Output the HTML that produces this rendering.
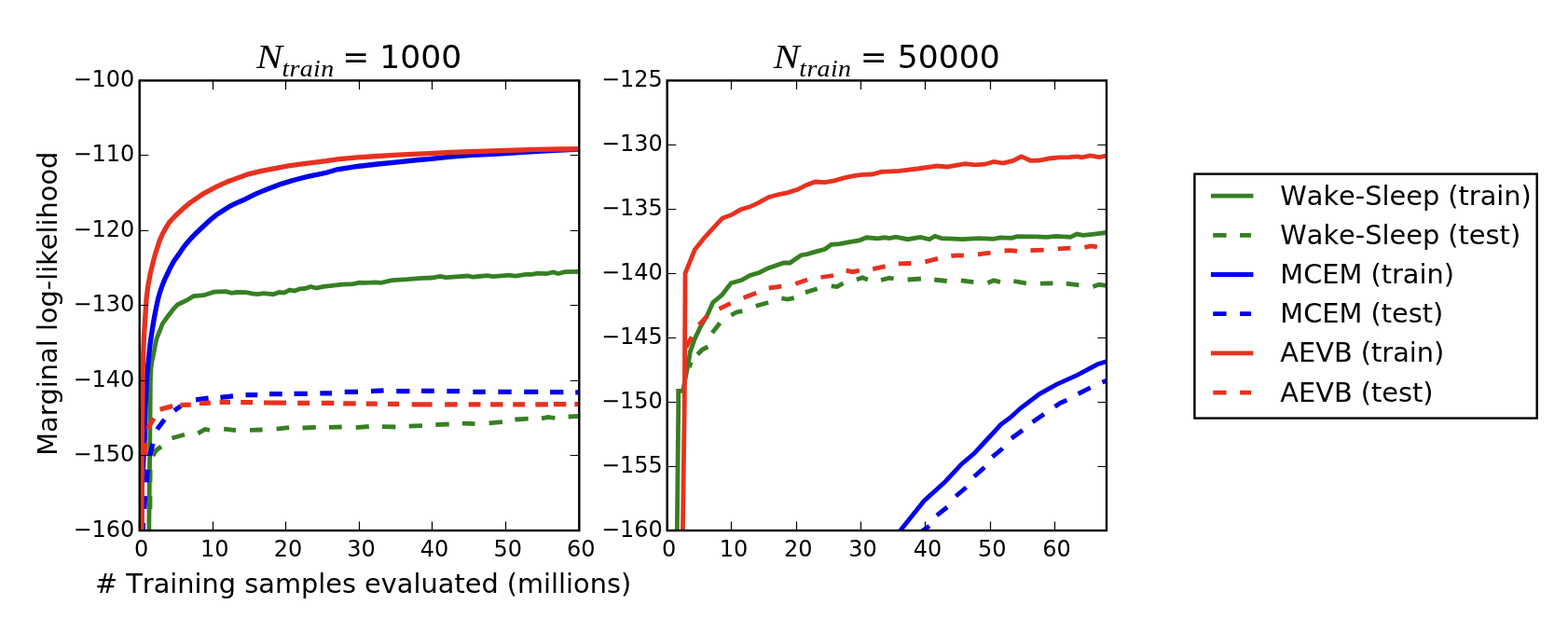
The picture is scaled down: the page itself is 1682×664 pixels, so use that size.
<!DOCTYPE html>
<html lang="en"><head><meta charset="utf-8"><title>Marginal log-likelihood</title>
<style>html,body{margin:0;padding:0;background:#fff}body{width:1682px;height:664px;overflow:hidden}svg{display:block;font-family:"DejaVu Sans","Liberation Sans",sans-serif}text{white-space:pre;font-kerning:none;font-feature-settings:"kern" 0,"liga" 0}</style></head><body>
<svg width="1682" height="664" viewBox="0 0 1682 664">
<rect width="1682" height="664" fill="#fff"/>
<clipPath id="c1"><rect x="149.7" y="86.4" width="471.59999999999997" height="482.70000000000005"/></clipPath>
<g clip-path="url(#c1)" fill="none" stroke-width="4.8" stroke-linejoin="miter">
<polyline points="159.8,570.0 160.5,500.0 161.1,440.0 161.4,407.8 161.9,396.0 162.9,388.0 165.4,376.2 166.7,368.9 168.6,361.7 171.5,354.5 174.4,347.2 179.5,340.0 186.2,331.4 190.5,326.7 200.6,322.0 207.8,317.5 218.7,316.7 229.5,313.1 242.5,312.6 248.3,314.3 254.1,313.5 264.2,313.6 271.6,315.1 276.9,315.5 282.2,314.7 293.4,315.7 299.4,313.5 304.7,314.1 310.7,311.1 316.0,312.1 321.9,309.8 327.2,309.5 333.2,307.5 339.2,309.1 347.1,307.4 356.4,306.4 367.0,305.1 378.9,304.7 385.6,303.1 392.2,303.4 402.8,302.9 408.7,303.4 420.6,300.6 436.5,299.7 452.4,298.4 463.0,298.0 472.3,296.4 478.3,297.7 489.5,296.8 501.5,296.0 506.8,297.1 522.7,295.7 529.3,296.7 546.5,295.1 553.1,296.1 563.7,294.4 570.4,294.4 577.0,293.1 586.3,293.7 593.6,292.0 598.9,293.5 606.2,291.7 622.0,291.4" stroke="#377f22"/>
<path d="M161.0 546.0L161.0 532.0M161.0 517.4L161.2 503.7M164.0 489.0L167.5 483.0L173.0 479.0M184.4 470.0L198.0 466.3M212.3 464.8L220.0 460.5L225.0 461.5M240.2 460.2L253.0 461.7M268.0 461.4L281.6 461.0M296.6 460.2L310.2 458.7M324.5 459.0L338.8 458.4M353.0 458.4L366.7 458.0M381.7 458.7L395.8 457.5M410.0 457.7L424.4 458.0M438.7 457.2L453.0 456.6M467.3 455.7L481.7 455.0M496.0 454.2L509.5 454.7M524.6 453.9L538.9 452.7M552.4 450.0L566.7 449.2M581.0 448.9L588.0 447.4L595.4 448.5M609.7 447.0L622.0 446.4" stroke="#377f22"/>
<polyline points="152.0,570.0 152.1,520.0 153.5,500.0 155.2,470.0 155.9,440.0 157.3,407.8 159.1,388.0 161.1,368.9 163.2,354.5 165.6,340.0 167.9,328.2 169.5,320.9 171.5,313.7 174.0,306.5 176.9,299.2 180.4,292.0 182.5,287.4 186.5,280.2 191.6,272.9 196.6,265.7 202.4,258.5 205.7,254.8 209.3,251.2 216.8,244.0 225.1,236.2 232.3,230.4 239.5,225.7 246.8,221.0 254.0,217.7 261.2,214.5 268.5,210.8 275.7,207.4 280.0,205.6 287.8,202.5 302.3,197.1 316.8,192.8 331.2,189.1 340.0,187.4 350.0,185.3 361.7,181.8 383.4,178.5 405.1,176.0 426.8,173.8 448.5,171.5 460.0,170.7 483.9,168.1 512.8,166.0 541.8,164.6 576.0,162.4 600.2,161.0 622.0,160.2" stroke="#0000ee" stroke-width="5.3"/>
<path d="M153.3 570.0L153.6 561.0M154.8 545.8L155.6 532.1M157.3 517.4L158.3 503.7M160.6 489.0L164.0 475.8M168.5 460.5L176.5 450.0M187.0 440.5L194.0 435.5M210.0 428.9L223.6 427.1M236.4 426.3L250.0 424.9M263.5 423.6L276.3 423.6M289.0 422.6L302.7 422.6M315.5 422.3L329.8 422.3M343.3 421.8L356.0 421.8M369.7 420.3L384.0 420.3M398.0 419.6L411.6 418.9M425.2 419.6L439.5 419.6M452.0 419.3L465.8 419.3M479.4 419.6L493.0 419.6M507.3 420.3L520.8 420.3M534.4 420.3L548.7 420.3M562.2 420.3L577.3 420.3M590.1 420.6L604.4 420.6M617.2 420.8L622.0 420.8" stroke="#0000ee" stroke-width="5.2"/>
<polyline points="152.0,570.0 152.2,480.0 152.8,440.0 153.1,410.0 153.4,388.0 154.4,361.7 155.8,340.0 157.0,320.9 158.8,306.5 161.6,292.0 164.5,280.2 166.4,272.9 168.8,265.7 171.1,258.5 174.2,251.2 176.0,248.0 178.2,244.0 181.7,238.3 188.9,230.7 196.2,224.0 203.4,217.9 210.6,212.9 217.8,208.0 225.1,204.1 231.0,200.9 244.5,194.7 258.9,189.5 266.2,186.8 280.6,183.4 295.1,180.6 309.5,177.9 324.0,175.8 338.5,174.1 350.0,172.7 361.7,170.9 383.4,168.8 405.1,167.5 426.8,166.2 448.5,165.1 460.0,164.6 483.9,163.5 512.8,162.4 541.8,161.5 576.0,160.3 600.0,160.0 622.0,159.8" stroke="#e8311f" stroke-width="5.3"/>
<path d="M155.4 487.5L155.6 475.3M158.5 460.0L165.0 448.5M171.6 439.2L185.2 435.4M193.5 434.5L204.8 434.2M213.8 432.7L225.8 432.2M235.6 431.3L247.0 431.3M258.2 431.6L271.0 431.6M283.0 432.0L307.0 432.2M319.2 432.4L332.0 432.4M344.8 432.4L358.4 432.4M368.2 432.8L381.7 432.8M392.8 433.1L404.8 433.1M416.1 433.4L428.2 433.4M441.7 433.9L463.6 433.9M477.1 433.9L490.7 433.9M502.7 433.9L515.5 433.9M526.1 433.9L539.6 433.9M550.2 433.9L563.0 433.9M574.3 433.9L587.8 433.9M593.9 433.6L607.4 433.6M616.4 433.6L622.0 433.6" stroke="#e8311f" stroke-width="5.2"/>
</g>
<g stroke="#000" stroke-width="1.2" fill="none">
<path d="M149.50 569.1V559.5M149.50 86.4V96.0"/>
<path d="M228.50 569.1V559.5M228.50 86.4V96.0"/>
<path d="M306.50 569.1V559.5M306.50 86.4V96.0"/>
<path d="M385.50 569.1V559.5M385.50 86.4V96.0"/>
<path d="M463.50 569.1V559.5M463.50 86.4V96.0"/>
<path d="M542.50 569.1V559.5M542.50 86.4V96.0"/>
<path d="M621.50 569.1V559.5M621.50 86.4V96.0"/>
<path d="M149.7 569.50H159.29999999999998M621.3 569.50H611.6999999999999"/>
<path d="M149.7 488.50H159.29999999999998M621.3 488.50H611.6999999999999"/>
<path d="M149.7 408.50H159.29999999999998M621.3 408.50H611.6999999999999"/>
<path d="M149.7 327.50H159.29999999999998M621.3 327.50H611.6999999999999"/>
<path d="M149.7 247.50H159.29999999999998M621.3 247.50H611.6999999999999"/>
<path d="M149.7 166.50H159.29999999999998M621.3 166.50H611.6999999999999"/>
<path d="M149.7 86.50H159.29999999999998M621.3 86.50H611.6999999999999"/>
</g>
<rect x="149.7" y="86.4" width="471.59999999999997" height="482.70000000000005" fill="none" stroke="#000" stroke-width="2.4"/>
<g font-size="24" fill="#000">
<text x="151.70" y="596.80" text-anchor="middle">0</text>
<text x="230.30" y="596.80" text-anchor="middle">10</text>
<text x="308.90" y="596.80" text-anchor="middle">20</text>
<text x="387.50" y="596.80" text-anchor="middle">30</text>
<text x="466.10" y="596.80" text-anchor="middle">40</text>
<text x="544.70" y="596.80" text-anchor="middle">50</text>
<text x="623.30" y="596.80" text-anchor="middle">60</text>
<text x="144.30" y="575.50" text-anchor="end">−160</text>
<text x="144.30" y="495.05" text-anchor="end">−150</text>
<text x="144.30" y="414.60" text-anchor="end">−140</text>
<text x="144.30" y="334.15" text-anchor="end">−130</text>
<text x="144.30" y="253.70" text-anchor="end">−120</text>
<text x="144.30" y="173.25" text-anchor="end">−110</text>
<text x="144.30" y="92.80" text-anchor="end">−100</text>
</g>
<text transform="translate(275.00,73.3) scale(1.15,1)" font-family="'Liberation Serif','DejaVu Serif',serif" font-style="italic" font-size="36.5">N</text>
<text transform="translate(302.50,81.5) scale(1.14,1)" font-family="'Liberation Serif','DejaVu Serif',serif" font-style="italic" font-size="24.5" letter-spacing="0.3">train</text>
<text x="367.30" y="73.3" font-size="34.56">= 1000</text>
<clipPath id="c2"><rect x="715.7" y="86.4" width="471.29999999999995" height="482.70000000000005"/></clipPath>
<g clip-path="url(#c2)" fill="none" stroke-width="4.8" stroke-linejoin="miter">
<polyline points="726.3,570.0 727.7,440.0 727.7,419.4 732.6,419.4 735.5,404.3 738.2,390.8 740.4,377.2 745.2,363.7 751.2,350.9 758.7,338.1 764.8,324.5 774.3,316.6 784.1,303.8 795.4,300.5 804.4,295.5 814.9,292.2 824.0,287.7 840.5,282.0 847.3,282.0 859.4,273.7 866.1,272.6 875.2,269.9 885.0,267.3 891.7,262.4 900.8,261.6 911.3,259.7 921.9,257.9 929.4,254.8 941.4,255.9 949.0,254.8 954.0,255.6 960.8,254.1 973.6,256.7 987.2,254.4 997.0,256.8 1003.0,253.3 1009.8,255.6 1032.3,256.7 1050.4,255.6 1065.5,256.4 1073.0,254.8 1085.1,255.3 1091.1,253.6 1110.7,253.8 1122.7,254.4 1133.3,253.3 1148.3,254.4 1155.1,251.1 1161.9,252.3 1173.9,251.1 1187.0,249.5" stroke="#377f22"/>
<path d="M739.5 394.0L741.0 388.5M748.2 380.3L753.4 375.0L759.3 372.0M764.0 356.9L772.3 346.4M784.3 338.1L790.0 335.0L796.4 333.6M810.7 328.3L824.2 324.5M838.3 320.0L845.0 321.1L851.8 319.6M863.9 313.6L876.7 309.8M891.7 306.8L898.0 307.6L904.5 303.8M918.9 300.0L925.0 297.8L930.9 300.0M945.0 300.5L954.0 298.1L958.6 299.0M973.6 300.0L987.9 299.0M1002.2 300.0L1015.8 301.5M1030.8 300.8L1044.4 302.6M1059.5 303.5L1066.0 300.8L1073.0 302.6M1087.3 301.5L1100.9 303.8M1115.9 304.2L1129.5 303.8M1143.8 304.2L1157.4 305.8M1172.4 307.6L1179.0 305.3L1188.0 306.5" stroke="#377f22"/>
<polyline points="950.0,588.5 966.8,567.8 991.1,537.4 1012.8,517.9 1031.6,497.7 1044.6,486.8 1054.6,476.0 1074.0,455.1 1083.4,448.2 1094.9,437.8 1115.1,422.6 1133.9,412.1 1155.6,402.4 1177.3,390.8 1188.0,387.5" stroke="#0000ee"/>
<path d="M988.0 570.5L996.9 564.2M1004.9 552.9L1016.1 544.0M1025.3 532.3L1036.5 522.7M1045.0 511.2L1056.1 501.2M1064.5 490.2L1075.6 481.0M1085.0 470.3L1096.9 461.5M1107.6 452.7L1119.9 444.3M1131.5 436.2L1137.5 432.2L1144.4 429.3M1156.5 422.5L1169.7 415.9M1182.4 410.1L1188.0 408.0" stroke="#0000ee"/>
<polyline points="732.4,570.0 734.3,430.0 735.0,293.3 745.2,268.0 756.0,254.6 769.3,240.0 775.0,234.0 784.8,230.4 794.6,224.8 804.4,221.8 813.4,217.6 824.7,211.5 834.5,208.8 845.1,206.6 855.6,203.3 864.6,198.7 874.4,195.0 885.0,195.7 894.8,193.9 905.3,190.9 915.8,188.6 924.9,187.4 935.4,187.0 945.2,184.4 955.0,183.9 964.6,183.3 984.2,181.0 1005.2,178.0 1015.8,179.0 1035.4,175.7 1045.9,176.9 1056.4,176.2 1066.2,173.5 1076.0,175.0 1086.6,172.4 1095.6,167.9 1105.4,172.3 1115.2,172.0 1125.7,170.0 1136.3,168.9 1146.8,168.6 1155.8,167.9 1160.4,168.9 1169.4,167.0 1179.2,168.5 1187.0,167.1" stroke="#e8311f"/>
<path d="M736.0 372.7L742.0 361.4M749.7 348.6L758.7 338.8M771.5 331.3L783.6 325.3M797.6 319.6L811.2 314.3M824.7 309.0L838.3 307.1M853.3 304.5L866.1 300.0M880.5 297.5L894.0 295.5M907.6 290.2L914.7 291.7L921.9 290.2M936.2 288.7L949.7 285.7M963.8 282.9L977.4 282.5M992.4 280.8L1006.0 277.4M1020.3 274.6L1027.0 273.8L1033.9 274.2M1048.9 272.9L1062.5 271.1M1077.5 269.0L1084.0 268.6L1091.1 269.4M1105.4 268.6L1119.7 268.1M1134.8 266.9L1148.3 266.1M1163.4 265.4L1170.0 263.9L1176.9 264.9" stroke="#e8311f"/>
</g>
<g stroke="#000" stroke-width="1.2" fill="none">
<path d="M715.50 569.1V559.5M715.50 86.4V96.0"/>
<path d="M784.50 569.1V559.5M784.50 86.4V96.0"/>
<path d="M854.50 569.1V559.5M854.50 86.4V96.0"/>
<path d="M923.50 569.1V559.5M923.50 86.4V96.0"/>
<path d="M992.50 569.1V559.5M992.50 86.4V96.0"/>
<path d="M1062.50 569.1V559.5M1062.50 86.4V96.0"/>
<path d="M1131.50 569.1V559.5M1131.50 86.4V96.0"/>
<path d="M715.7 569.50H725.3000000000001M1187.0 569.50H1177.4"/>
<path d="M715.7 500.50H725.3000000000001M1187.0 500.50H1177.4"/>
<path d="M715.7 431.50H725.3000000000001M1187.0 431.50H1177.4"/>
<path d="M715.7 362.50H725.3000000000001M1187.0 362.50H1177.4"/>
<path d="M715.7 293.50H725.3000000000001M1187.0 293.50H1177.4"/>
<path d="M715.7 224.50H725.3000000000001M1187.0 224.50H1177.4"/>
<path d="M715.7 155.50H725.3000000000001M1187.0 155.50H1177.4"/>
<path d="M715.7 86.50H725.3000000000001M1187.0 86.50H1177.4"/>
</g>
<rect x="715.7" y="86.4" width="471.29999999999995" height="482.70000000000005" fill="none" stroke="#000" stroke-width="2.4"/>
<g font-size="24" fill="#000">
<text x="717.70" y="596.80" text-anchor="middle">0</text>
<text x="787.01" y="596.80" text-anchor="middle">10</text>
<text x="856.32" y="596.80" text-anchor="middle">20</text>
<text x="925.63" y="596.80" text-anchor="middle">30</text>
<text x="994.94" y="596.80" text-anchor="middle">40</text>
<text x="1064.24" y="596.80" text-anchor="middle">50</text>
<text x="1133.55" y="596.80" text-anchor="middle">60</text>
<text x="710.80" y="576.10" text-anchor="end">−160</text>
<text x="710.80" y="507.14" text-anchor="end">−155</text>
<text x="710.80" y="438.19" text-anchor="end">−150</text>
<text x="710.80" y="369.23" text-anchor="end">−145</text>
<text x="710.80" y="300.27" text-anchor="end">−140</text>
<text x="710.80" y="231.31" text-anchor="end">−135</text>
<text x="710.80" y="162.36" text-anchor="end">−130</text>
<text x="710.80" y="93.40" text-anchor="end">−125</text>
</g>
<text transform="translate(829.80,73.3) scale(1.15,1)" font-family="'Liberation Serif','DejaVu Serif',serif" font-style="italic" font-size="36.5">N</text>
<text transform="translate(857.30,81.5) scale(1.14,1)" font-family="'Liberation Serif','DejaVu Serif',serif" font-style="italic" font-size="24.5" letter-spacing="0.3">train</text>
<text x="922.80" y="73.3" font-size="34.56">= 50000</text>
<text x="389.6" y="635.9" font-size="28.8" text-anchor="middle"># Training samples evaluated (millions)</text>
<text transform="translate(61,325.7) rotate(-90)" font-size="28.8" text-anchor="middle">Marginal log-likelihood</text>
<rect x="1281.4" y="186.6" width="367.29999999999995" height="262.0" fill="#fff" stroke="#000" stroke-width="2.4"/>
<path d="M1298.9 210.1H1344.4" stroke="#377f22" stroke-width="4.8" fill="none"/>
<text x="1373.3" y="219.6" font-size="28.8">Wake-Sleep (train)</text>
<path d="M1301.2 252.3H1342.1" stroke="#377f22" stroke-width="4.8" fill="none" stroke-dasharray="14.4,14.4"/>
<text x="1373.3" y="261.8" font-size="28.8">Wake-Sleep (test)</text>
<path d="M1298.9 294.5H1344.4" stroke="#0000ee" stroke-width="4.8" fill="none"/>
<text x="1373.3" y="304.0" font-size="28.8">MCEM (train)</text>
<path d="M1301.2 336.7H1342.1" stroke="#0000ee" stroke-width="4.8" fill="none" stroke-dasharray="14.4,14.4"/>
<text x="1373.3" y="346.2" font-size="28.8">MCEM (test)</text>
<path d="M1298.9 378.9H1344.4" stroke="#e8311f" stroke-width="4.8" fill="none"/>
<text x="1373.3" y="388.4" font-size="28.8">AEVB (train)</text>
<path d="M1301.2 421.1H1342.1" stroke="#e8311f" stroke-width="4.8" fill="none" stroke-dasharray="14.4,14.4"/>
<text x="1373.3" y="430.6" font-size="28.8">AEVB (test)</text>
</svg></body></html>
